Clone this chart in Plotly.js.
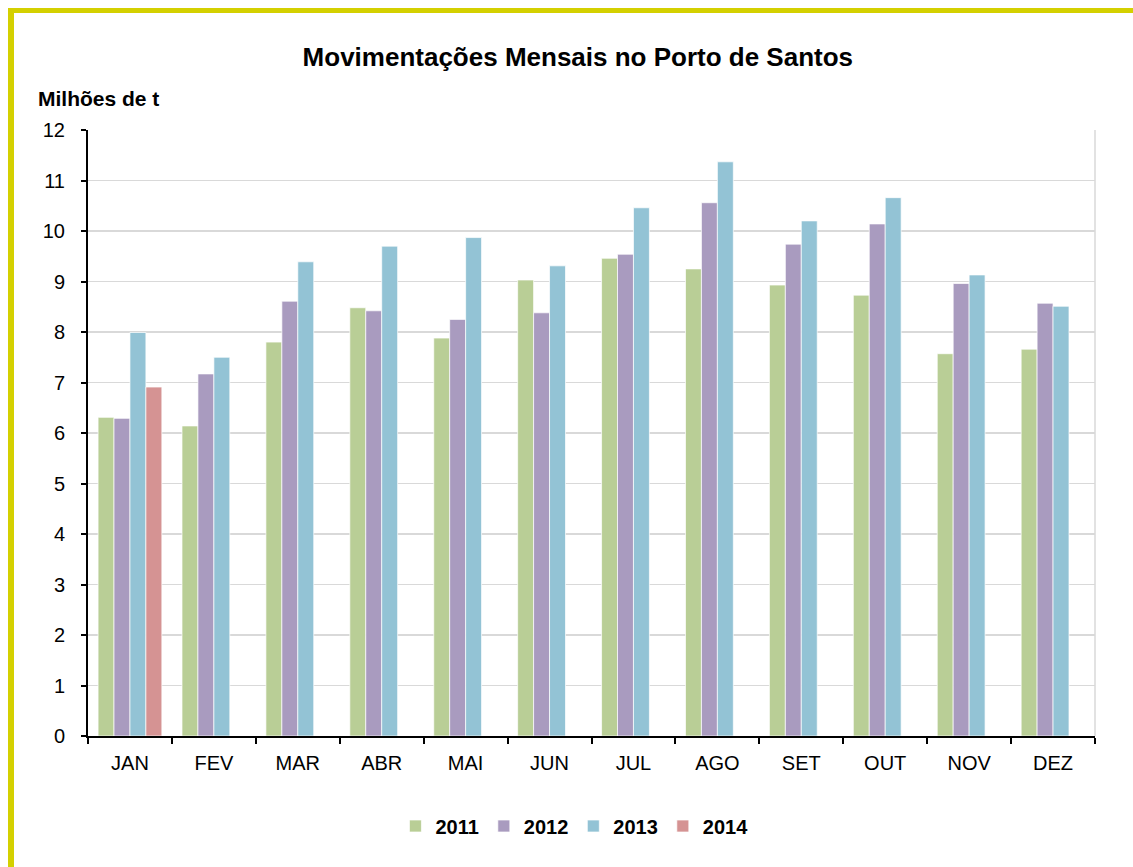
<!DOCTYPE html>
<html>
<head>
<meta charset="utf-8">
<script src="https://cdn.plot.ly/plotly-3.0.1.min.js"></script>
<style>
  html, body { margin: 0; padding: 0; background: #ffffff; }
  #chart { position: absolute; left: 0; top: 0; width: 1133px; height: 867px; }
  #frame { position: absolute; left: 8px; top: 8px; width: 1125px; height: 859px;
           border-left: 6px solid #D4D000; border-top: 5px solid #D4D000;
           box-sizing: border-box; pointer-events: none; }
</style>
</head>
<body>
<div id="chart"></div>
<div id="frame"></div>
<script>
const months = ["JAN","FEV","MAR","ABR","MAI","JUN","JUL","AGO","SET","OUT","NOV","DEZ"];
const v2011 = [6.31, 6.14, 7.80, 8.48, 7.88, 9.03, 9.46, 9.25, 8.93, 8.73, 7.57, 7.66];
const v2012 = [6.29, 7.17, 8.61, 8.42, 8.25, 8.38, 9.54, 10.56, 9.74, 10.14, 8.96, 8.57];
const v2013 = [7.99, 7.50, 9.39, 9.70, 9.87, 9.31, 10.46, 11.37, 10.20, 10.66, 9.13, 8.51];
const v2014 = [6.91, null, null, null, null, null, null, null, null, null, null, null];
const seriesNames = ["2011", "2012", "2013", "2014"];
const seriesColors = ["#B9CE96", "#A99BBF", "#93C3D5", "#D59393"];
const yTicks = [0,1,2,3,4,5,6,7,8,9,10,11,12];

const allValues = [v2011, v2012, v2013, v2014];
const traces = allValues.map((vals, i) => ({
  type: "bar",
  name: seriesNames[i],
  x: months,
  y: vals,
  marker: { color: seriesColors[i], line: { color: "rgba(255,255,255,0.7)", width: 1 } },
  hoverinfo: "x+y+name"
}));

const font = "Liberation Sans, Arial, sans-serif";
const layout = {
  width: 1133,
  height: 867,
  paper_bgcolor: "#ffffff",
  plot_bgcolor: "#ffffff",
  margin: { l: 88, r: 38, t: 130, b: 131 },
  barmode: "group",
  bargap: 0.24,
  bargroupgap: 0,
  font: { family: font, color: "#000000", size: 20 },
  title: {
    text: "<b>Movimentações Mensais no Porto de Santos</b>",
    font: { family: font, size: 26, color: "#000000" },
    xref: "container", x: 0.51, xanchor: "center",
    yref: "container", y: 1 - 57/867, yanchor: "middle"
  },
  xaxis: {
    type: "category",
    categoryarray: months,
    showline: true, linecolor: "#000000", linewidth: 2,
    ticks: "outside", tickson: "boundaries", ticklen: 6, tickwidth: 2, tickcolor: "#000000",
    tickfont: { family: font, size: 20, color: "#000000" },
    ticklabelstandoff: 8,
    showgrid: false,
    fixedrange: true
  },
  yaxis: {
    range: [0, 12],
    tickvals: yTicks,
    showline: true, linecolor: "#000000", linewidth: 2,
    ticks: "outside", ticklen: 5, tickwidth: 2, tickcolor: "#000000",
    tickfont: { family: font, size: 20, color: "#000000" },
    ticklabelstandoff: 12,
    showgrid: true, gridcolor: "#D9D9D9", gridwidth: 1.5,
    zeroline: false,
    fixedrange: true
  },
  legend: {
    orientation: "h",
    xref: "container", x: 0.507, xanchor: "center",
    yref: "container", y: 1 - 826/867, yanchor: "middle",
    font: { family: font, size: 20, color: "#000000", weight: "bold" },
    itemwidth: 30,
    tracegroupgap: 0
  },
  shapes: [
    { type: "line", xref: "paper", yref: "paper", x0: 1, x1: 1, y0: 0, y1: 1,
      line: { color: "#D9D9D9", width: 1.5 }, layer: "below" }
  ],
  annotations: [
    { text: "<b>Milhões de t</b>", xref: "paper", yref: "paper",
      x: (36 - 88) / 1007, xanchor: "left",
      y: 1 + (130 - 98) / 606, yanchor: "middle",
      showarrow: false, font: { family: font, size: 21, color: "#000000" } }
  ]
};

Plotly.newPlot("chart", traces, layout, { displayModeBar: false, staticPlot: true });
</script>
</body>
</html>
